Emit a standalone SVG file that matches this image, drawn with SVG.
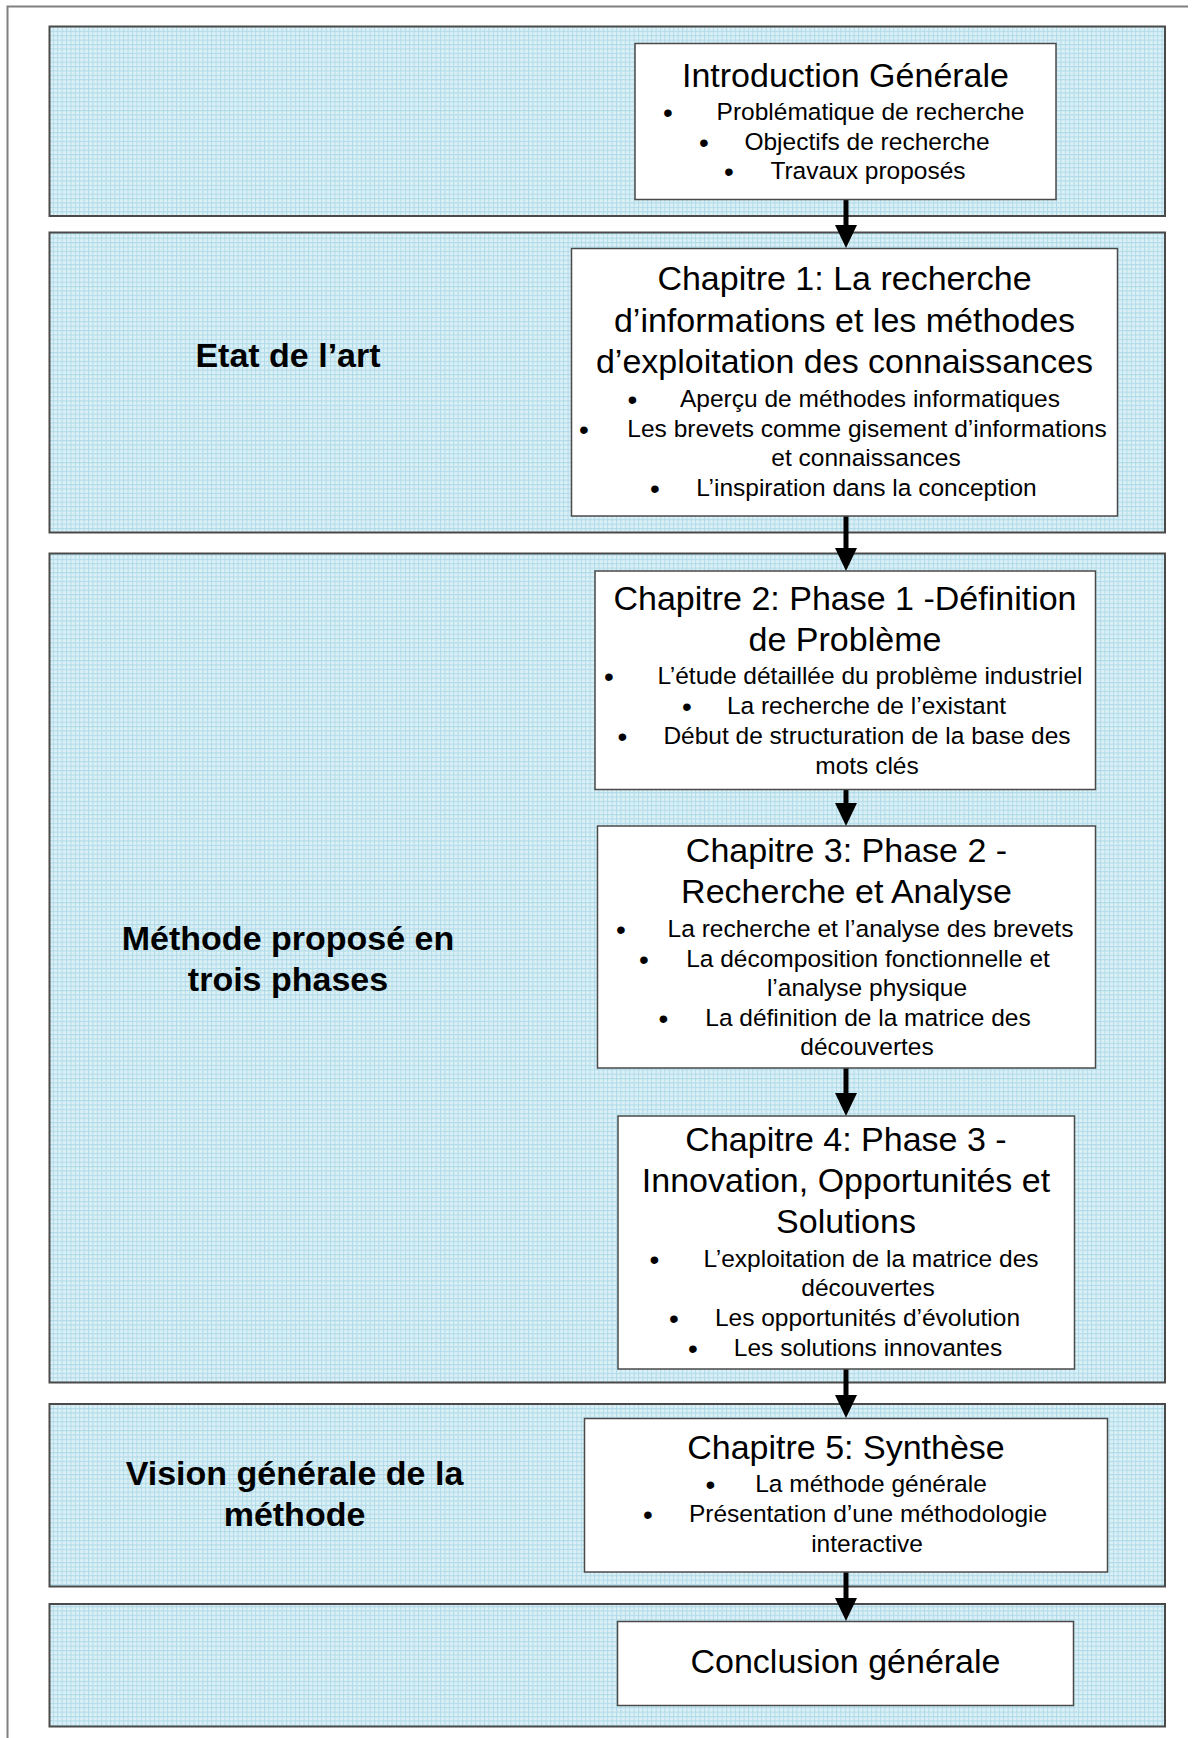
<svg xmlns="http://www.w3.org/2000/svg" width="1198" height="1738" viewBox="0 0 1198 1738">
<style>
.band{fill:url(#grid);stroke:#4a4a4a;stroke-width:2}
.box{fill:#ffffff;stroke:#4a4a4a;stroke-width:1.5}
.t{font-family:"Liberation Sans",Arial,sans-serif;font-size:34px;fill:#000;text-anchor:middle}
.b{font-family:"Liberation Sans",Arial,sans-serif;font-size:24.5px;fill:#000;text-anchor:middle}
.d{font-family:"Liberation Sans",Arial,sans-serif;font-size:28px;fill:#000;text-anchor:middle}
.lab{font-family:"Liberation Sans",Arial,sans-serif;font-size:34px;font-weight:bold;fill:#000;text-anchor:middle}
.con{stroke:#000;stroke-width:5;fill:none;marker-end:url(#arr)}
</style>
<defs>
<pattern id="grid" width="4.4" height="4.4" patternUnits="userSpaceOnUse">
<rect width="4.4" height="4.4" fill="#dcf0f6"/>
<path d="M0 0.5H4.4M0.5 0V4.4" stroke="#afdbe9" stroke-width="1"/>
</pattern>
<marker id="arr" markerUnits="userSpaceOnUse" viewBox="0 0 23 22" markerWidth="23" markerHeight="22" refX="11" refY="11" orient="auto">
<path d="M0 0L23 11L0 22z" fill="#000"/>
</marker>
</defs>
<rect width="1198" height="1738" fill="#ffffff"/>
<path d="M7.5 1738V6.5H1188" fill="none" stroke="#808080" stroke-width="2"/>
<g id="bands">
<rect id="band1" class="band" x="49.5" y="26.5" width="1115.5" height="189.5"/>
<rect id="band2" class="band" x="49.5" y="232.5" width="1115.5" height="300"/>
<rect id="band3" class="band" x="49.5" y="553.5" width="1115.5" height="829"/>
<rect id="band4" class="band" x="49.5" y="1404" width="1115.5" height="182.5"/>
<rect id="band5" class="band" x="49.5" y="1604" width="1115.5" height="122.5"/>
</g>
<g id="label-etat">
<text class="lab" x="288" y="366.5">Etat de l’art</text>
</g>
<g id="label-methode">
<text class="lab" x="288" y="949.5">Méthode proposé en</text>
<text class="lab" x="288" y="990.5">trois phases</text>
</g>
<g id="label-vision">
<text class="lab" x="294.5" y="1484.5">Vision générale de la</text>
<text class="lab" x="294.5" y="1525.5">méthode</text>
</g>
<g id="connectors">
<line class="con" x1="846" y1="199" x2="846" y2="236"/>
<line class="con" x1="846" y1="516" x2="846" y2="559"/>
<line class="con" x1="846" y1="789" x2="846" y2="814"/>
<line class="con" x1="846" y1="1068" x2="846" y2="1104"/>
<line class="con" x1="846" y1="1369" x2="846" y2="1406"/>
<line class="con" x1="846" y1="1572" x2="846" y2="1609"/>
</g>
<g id="intro">
<rect class="box" x="635" y="43.5" width="421" height="156"/>
<text class="t" x="845.5" y="86.5">Introduction Générale</text>
<text class="d" x="668" y="122">•</text><text class="b" x="870.5" y="120">Problématique de recherche</text>
<text class="d" x="704" y="151.5">•</text><text class="b" x="867" y="149.5">Objectifs de recherche</text>
<text class="d" x="729" y="181">•</text><text class="b" x="868" y="179">Travaux proposés</text>
</g>
<g id="ch1">
<rect class="box" x="571.5" y="248.5" width="546" height="267.5"/>
<text class="t" x="844.5" y="290">Chapitre 1: La recherche</text>
<text class="t" x="844.5" y="331.5">d’informations et les méthodes</text>
<text class="t" x="844.5" y="372.5">d’exploitation des connaissances</text>
<text class="d" x="632.5" y="408.5">•</text><text class="b" x="870" y="406.5">Aperçu de méthodes informatiques</text>
<text class="d" x="584" y="438.5">•</text><text class="b" x="867" y="436.5">Les brevets comme gisement d’informations</text>
<text class="b" x="866" y="466">et connaissances</text>
<text class="d" x="655" y="497.5">•</text><text class="b" x="866.5" y="495.5">L’inspiration dans la conception</text>
</g>
<g id="ch2">
<rect class="box" x="595" y="571" width="500.5" height="218.5"/>
<text class="t" x="845" y="610">Chapitre 2: Phase 1 -Définition</text>
<text class="t" x="845" y="650.5">de Problème</text>
<text class="d" x="609" y="685.5">•</text><text class="b" x="870" y="683.5">L’étude détaillée du problème industriel</text>
<text class="d" x="687" y="716">•</text><text class="b" x="866.5" y="714">La recherche de l’existant</text>
<text class="d" x="622.5" y="746">•</text><text class="b" x="867" y="744">Début de structuration de la base des</text>
<text class="b" x="867" y="773.5">mots clés</text>
</g>
<g id="ch3">
<rect class="box" x="597.5" y="826" width="498" height="242"/>
<text class="t" x="846.5" y="862">Chapitre 3: Phase 2 -</text>
<text class="t" x="846.5" y="903">Recherche et Analyse</text>
<text class="d" x="621" y="939">•</text><text class="b" x="870.5" y="937">La recherche et l’analyse des brevets</text>
<text class="d" x="644" y="968.5">•</text><text class="b" x="868" y="966.5">La décomposition fonctionnelle et</text>
<text class="b" x="867" y="996">l’analyse physique</text>
<text class="d" x="663.5" y="1027.5">•</text><text class="b" x="868" y="1025.5">La définition de la matrice des</text>
<text class="b" x="867" y="1055">découvertes</text>
</g>
<g id="ch4">
<rect class="box" x="618" y="1116" width="456.5" height="253"/>
<text class="t" x="846" y="1150.5">Chapitre 4: Phase 3 -</text>
<text class="t" x="846" y="1192">Innovation, Opportunités et</text>
<text class="t" x="846" y="1233">Solutions</text>
<text class="d" x="654.5" y="1268.5">•</text><text class="b" x="871" y="1266.5">L’exploitation de la matrice des</text>
<text class="b" x="868" y="1296">découvertes</text>
<text class="d" x="674" y="1328">•</text><text class="b" x="867.5" y="1326">Les opportunités d’évolution</text>
<text class="d" x="693" y="1357.5">•</text><text class="b" x="868" y="1355.5">Les solutions innovantes</text>
</g>
<g id="ch5">
<rect class="box" x="584.5" y="1418.5" width="523" height="153.5"/>
<text class="t" x="846" y="1459">Chapitre 5: Synthèse</text>
<text class="d" x="710.5" y="1494">•</text><text class="b" x="871" y="1492">La méthode générale</text>
<text class="d" x="648" y="1524">•</text><text class="b" x="868" y="1522">Présentation d’une méthodologie</text>
<text class="b" x="867" y="1552">interactive</text>
</g>
<g id="conclusion">
<rect class="box" x="617.5" y="1621.5" width="456" height="84"/>
<text class="t" x="845.5" y="1673">Conclusion générale</text>
</g>
</svg>
